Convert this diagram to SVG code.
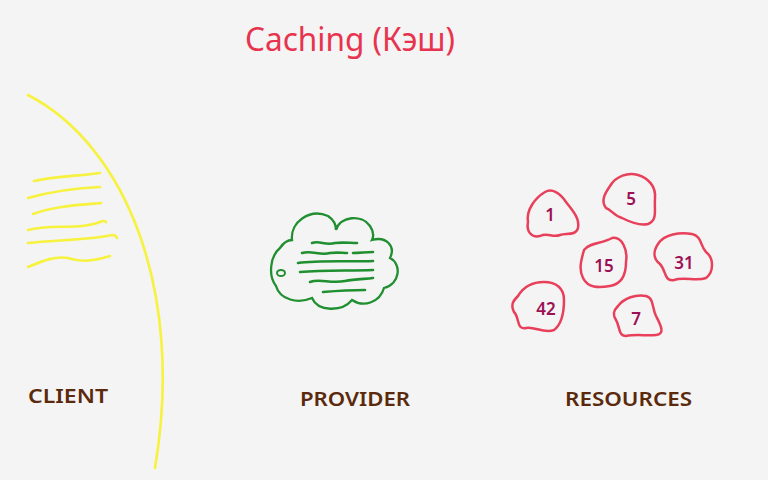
<svg xmlns="http://www.w3.org/2000/svg" width="768" height="480" viewBox="0 0 768 480">
<style>
.title{font-family:"Noto Sans","Liberation Sans",sans-serif;font-size:32px;fill:#e8334f}
.lbl{font-family:"Noto Sans","Liberation Sans",sans-serif;font-size:19px;font-weight:600;fill:#5b2a0c}
.num{font-family:"Noto Sans","Liberation Sans",sans-serif;font-size:17px;font-weight:600;fill:#9c1055;text-anchor:middle}
.blob{fill:none;stroke:#e8405a;stroke-width:2.5;stroke-linejoin:round}
.yl{fill:none;stroke:#f6f23e;stroke-width:2.6;stroke-linecap:round}
.gl{fill:none;stroke:#1f8f2f;stroke-width:2.6;stroke-linecap:round}
</style>
<rect width="768" height="480" fill="#f4f4f4"/>
<text class="title" x="245" y="51" textLength="210" lengthAdjust="spacingAndGlyphs">Caching (Кэш)</text>
<g id="client">
<path class="yl" d="M28,95 C125,145 185,290 155,468" stroke-width="1.6"/>
<path class="yl" d="M34,181 C55,176 80,176 100,173"/>
<path class="yl" d="M28,198 C50,192 75,188 100,187"/>
<path class="yl" d="M33,214 C55,206 80,205 101,203"/>
<path class="yl" d="M28,230 C50,224 80,230 100,222 C104,220 106,222 106,222"/>
<path class="yl" d="M28,243 C55,240 90,240 112,235 C116,235 117,238 117,238"/>
<path class="yl" d="M28,267 C45,260 55,256 68,258 C80,262 90,262 110,256"/>
<text class="lbl" x="28" y="403" textLength="80" lengthAdjust="spacingAndGlyphs">CLIENT</text>
</g>
<g id="provider">
<path d="M292,240 C290,222 310,208 328,216 C334,220 336,226 336,230 C340,216 362,214 370,226 C374,232 374,236 372,240 C386,236 396,246 390,258 C402,264 400,284 384,288 C380,302 364,308 352,300 C342,312 318,312 312,298 C298,304 280,300 276,286 C268,276 270,256 280,248 C284,242 288,240 292,240 Z" fill="none" stroke="#1f8f2f" stroke-width="2.3"/>
<ellipse cx="281" cy="273" rx="4" ry="3" fill="none" stroke="#1f8f2f" stroke-width="2"/>
<path class="gl" d="M312,243 C320,240 325,246 335,243 C342,242 350,243 357,243"/>
<path class="gl" d="M302,253 C312,250 320,256 330,253 C338,252 342,253 347,253"/>
<path class="gl" d="M353,253 C360,253 366,252 373,252"/>
<path class="gl" d="M298,263 C320,260 350,262 373,261"/>
<path class="gl" d="M300,272 C325,270 350,271 373,270"/>
<path class="gl" d="M310,282 C320,278 330,284 345,281 C355,279 365,279 373,278"/>
<path class="gl" d="M323,292 C335,291 350,290 365,290"/>
<text class="lbl" x="300" y="406" textLength="110" lengthAdjust="spacingAndGlyphs">PROVIDER</text>
</g>
<g id="resources">
<g id="r1"><path class="blob" d="M528,222 C526,210 535,198 545,192 C552,188 560,193 566,202 C572,210 580,218 578,228 C576,236 566,233 560,235 C552,238 548,232 540,236 C532,238 526,232 528,222 Z"/><text class="num" x="550" y="221">1</text></g>
<g id="r5"><path class="blob" d="M610,186 C616,176 628,172 638,175 C648,178 656,186 655,198 C654,210 658,220 648,224 C640,226 630,222 622,218 C614,216 612,210 606,208 C600,200 606,192 610,186 Z"/><text class="num" x="631" y="205">5</text></g>
<g id="r15"><path class="blob" d="M584,250 C590,242 602,244 612,238 C622,236 628,250 626,262 C626,274 622,284 610,286 C598,288 588,288 583,278 C578,268 582,258 584,250 Z"/><text class="num" x="604" y="272">15</text></g>
<g id="r31"><path class="blob" d="M658,244 C664,234 680,232 692,234 C702,236 700,246 706,252 C714,258 714,272 706,278 C696,282 684,276 674,280 C664,282 666,270 660,264 C652,258 654,250 658,244 Z"/><text class="num" x="684" y="269">31</text></g>
<g id="r42"><path class="blob" d="M518,296 C524,286 534,282 544,282 C556,282 564,288 564,300 C564,312 562,324 554,330 C544,334 534,326 526,328 C516,330 520,318 514,312 C510,304 514,300 518,296 Z"/><text class="num" x="546" y="315">42</text></g>
<g id="r7"><path class="blob" d="M618,306 C624,298 636,294 646,296 C654,298 652,308 656,316 C660,324 666,334 656,335 C646,336 636,334 626,336 C618,336 620,326 616,320 C612,314 614,310 618,306 Z"/><text class="num" x="636" y="325">7</text></g>
<text class="lbl" x="565" y="406" textLength="127" lengthAdjust="spacingAndGlyphs">RESOURCES</text>
</g>
</svg>
